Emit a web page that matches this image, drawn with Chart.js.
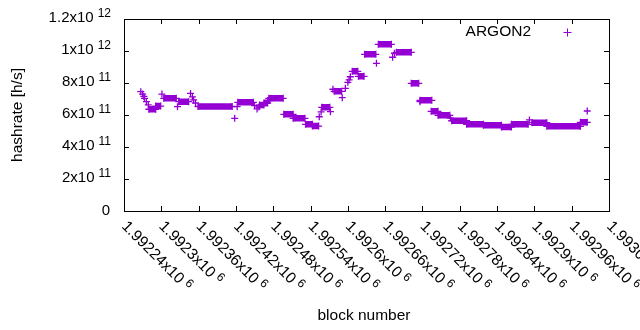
<!DOCTYPE html>
<html>
<head>
<meta charset="utf-8">
<script src="https://cdn.jsdelivr.net/npm/chart.js@4/dist/chart.umd.min.js"></script>
<style>
  html, body { margin: 0; padding: 0; background: #fff; }
  #chart { display: block; }
</style>
</head>
<body>
<canvas id="chart" width="640" height="330"></canvas>
<script>
// single blocks
const pointBlocks = [1992267, 1992270, 1992272, 1992273, 1992276, 1992279, 1992301, 1992326,
  1992347, 1992350, 1992352, 1992355, 1992418, 1992422, 1992450, 1992454, 1992457, 1992468,
  1992554, 1992557, 1992572, 1992576, 1992591, 1992596, 1992600, 1992602, 1992604, 1992646,
  1992672, 1992675, 1992716, 1992765, 1992892, 1992985];
const pointRates = [7.46e11, 7.31e11, 7.16e11, 7.04e11, 6.83e11, 6.63e11, 7.31e11, 6.52e11,
  7.35e11, 7.13e11, 6.94e11, 6.75e11, 5.79e11, 6.52e11, 6.59e11, 6.38e11, 6.5e11, 6.75e11,
  5.89e11, 6.19e11, 6.21e11, 7.61e11, 7.08e11, 7.67e11, 8.04e11, 8.19e11, 8.39e11, 9.23e11,
  9.61e11, 9.86e11, 6.83e11, 5.81e11, 5.69e11, 6.25e11];

// stretches where the hashrate stays flat
const runStart = [1992280, 1992291, 1992304, 1992328, 1992359, 1992423, 1992458, 1992465, 1992471,
  1992473, 1992497, 1992512, 1992532, 1992543, 1992558, 1992578, 1992607, 1992617, 1992627,
  1992649, 1992678, 1992702, 1992716, 1992734, 1992745, 1992767, 1992791, 1992818, 1992847,
  1992863, 1992896, 1992920, 1992974];
const runEnd = [1992291, 1992299, 1992324, 1992344, 1992414, 1992448, 1992465, 1992471, 1992474,
  1992496, 1992512, 1992531, 1992543, 1992553, 1992571, 1992590, 1992616, 1992626, 1992645,
  1992670, 1992702, 1992714, 1992735, 1992745, 1992764, 1992791, 1992818, 1992847, 1992863,
  1992890, 1992920, 1992974, 1992985];
const runRate = [6.36e11, 6.56e11, 7.04e11, 6.83e11, 6.53e11, 6.79e11, 6.63e11, 6.75e11, 6.9e11,
  7.04e11, 6.04e11, 5.79e11, 5.42e11, 5.31e11, 6.48e11, 7.48e11, 8.73e11, 8.42e11, 9.79e11,
  10.42e11, 9.92e11, 7.98e11, 6.92e11, 6.23e11, 5.98e11, 5.64e11, 5.42e11, 5.36e11, 5.25e11,
  5.42e11, 5.52e11, 5.29e11, 5.54e11];

const xTickValues = [1992240, 1992300, 1992360, 1992420, 1992480, 1992540, 1992600,
  1992660, 1992720, 1992780, 1992840, 1992900, 1992960, 1993020];
const xTickText = ['1.99224', '1.9923', '1.99236', '1.99242', '1.99248', '1.99254', '1.9926',
  '1.99266', '1.99272', '1.99278', '1.99284', '1.9929', '1.99296', '1.99302'];
const yTickValues = [0, 2e11, 4e11, 6e11, 8e11, 1e12, 1.2e12];
const yTickText = ['0', '2x10', '4x10', '6x10', '8x10', '1x10', '1.2x10'];
const yTickExp = ['', '11', '11', '11', '11', '12', '12'];

const purple = '#9400d3';
const FONT = '"Liberation Sans", Arial, sans-serif';

// crosses: single blocks plus both ends of each flat stretch
const crossData = pointBlocks.map((b, i) => ({x: b, y: pointRates[i]}));
runStart.forEach((s, i) => {
    crossData.push({x: s, y: runRate[i]});
    crossData.push({x: runEnd[i], y: runRate[i]});
});

// flat stretches as thick segments, broken with nulls
const runData = [];
runStart.forEach((s, i) => {
    runData.push({x: s, y: runRate[i]});
    runData.push({x: runEnd[i], y: runRate[i]});
    runData.push({x: runEnd[i], y: null});
});

const frame = {
    id: 'frame',
    afterDraw(chart) {
        const {ctx, chartArea: a, scales: {x, y}} = chart;
        ctx.save();
        ctx.strokeStyle = '#000';
        ctx.lineWidth = 1;
        ctx.strokeRect(Math.round(a.left) + 0.5, Math.round(a.top) + 0.5,
            Math.round(a.right - a.left), Math.round(a.bottom - a.top));

        // inward ticks, mirrored on top and right
        ctx.beginPath();
        xTickValues.forEach(v => {
            const px = Math.round(x.getPixelForValue(v)) + 0.5;
            ctx.moveTo(px, a.bottom); ctx.lineTo(px, a.bottom - 5);
            ctx.moveTo(px, a.top); ctx.lineTo(px, a.top + 5);
        });
        yTickValues.forEach(v => {
            const py = Math.round(y.getPixelForValue(v)) + 0.5;
            ctx.moveTo(a.left, py); ctx.lineTo(a.left + 5, py);
            ctx.moveTo(a.right, py); ctx.lineTo(a.right - 5, py);
        });
        ctx.stroke();

        ctx.fillStyle = '#000';
        ctx.textBaseline = 'middle';

        // y tick labels with exponent
        yTickValues.forEach((v, i) => {
            const py = y.getPixelForValue(v);
            ctx.textAlign = 'right';
            if (!yTickExp[i]) {
                ctx.font = '15px ' + FONT;
                ctx.fillText(yTickText[i], 110, py);
                return;
            }
            ctx.font = '12px ' + FONT;
            const ew = ctx.measureText(yTickExp[i]).width;
            ctx.fillText(yTickExp[i], 111, py - 5);
            ctx.font = '15px ' + FONT;
            ctx.fillText(yTickText[i], 111 - ew - 4, py - 1);
        });

        // x tick labels, rotated down to the right
        xTickValues.forEach((v, i) => {
            const px = x.getPixelForValue(v);
            ctx.save();
            ctx.translate(px, a.bottom + 13);
            ctx.rotate(Math.PI / 4);
            ctx.textAlign = 'left';
            ctx.font = '15.5px ' + FONT;
            const txt = xTickText[i] + 'x10';
            ctx.fillText(txt, 0, 0);
            const w = ctx.measureText(txt).width;
            ctx.font = '12px ' + FONT;
            ctx.fillText('6', w + 4, -4);
            ctx.restore();
        });

        // axis titles
        ctx.font = '15.5px ' + FONT;
        ctx.textAlign = 'center';
        ctx.fillText('block number', 364, 316);
        ctx.save();
        ctx.translate(18, 115);
        ctx.rotate(-Math.PI / 2);
        ctx.fillText('hashrate [h/s]', 0, 0);
        ctx.restore();

        // key
        ctx.textAlign = 'right';
        ctx.fillText('ARGON2', 531, 32);
        ctx.strokeStyle = purple;
        ctx.beginPath();
        ctx.moveTo(563.5, 32.5); ctx.lineTo(571.5, 32.5);
        ctx.moveTo(567.5, 28.5); ctx.lineTo(567.5, 36.5);
        ctx.stroke();
        ctx.restore();
    }
};

new Chart(document.getElementById('chart'), {
    type: 'scatter',
    data: {
        datasets: [
            {
                label: 'ARGON2',
                data: crossData,
                pointStyle: 'cross',
                pointRadius: 3.5,
                pointBorderWidth: 1.3,
                borderColor: purple,
                backgroundColor: purple,
                showLine: false
            },
            {
                label: 'runs',
                type: 'line',
                data: runData,
                borderColor: purple,
                borderWidth: 6.5,
                borderCapStyle: 'butt',
                pointRadius: 0,
                spanGaps: false,
                fill: false
            }
        ]
    },
    options: {
        responsive: false,
        animation: false,
        events: [],
        layout: { padding: { left: 124, right: 31, top: 19, bottom: 119 } },
        plugins: { legend: { display: false }, tooltip: { enabled: false } },
        scales: {
            x: {
                type: 'linear', min: 1992240, max: 1993020,
                grid: { display: false }, border: { display: false },
                ticks: { display: false },
                afterFit: s => { s.height = 0; }
            },
            y: {
                min: 0, max: 1.2e12,
                grid: { display: false }, border: { display: false },
                ticks: { display: false },
                afterFit: s => { s.width = 0; }
            }
        }
    },
    plugins: [frame]
});
</script>
</body>
</html>
